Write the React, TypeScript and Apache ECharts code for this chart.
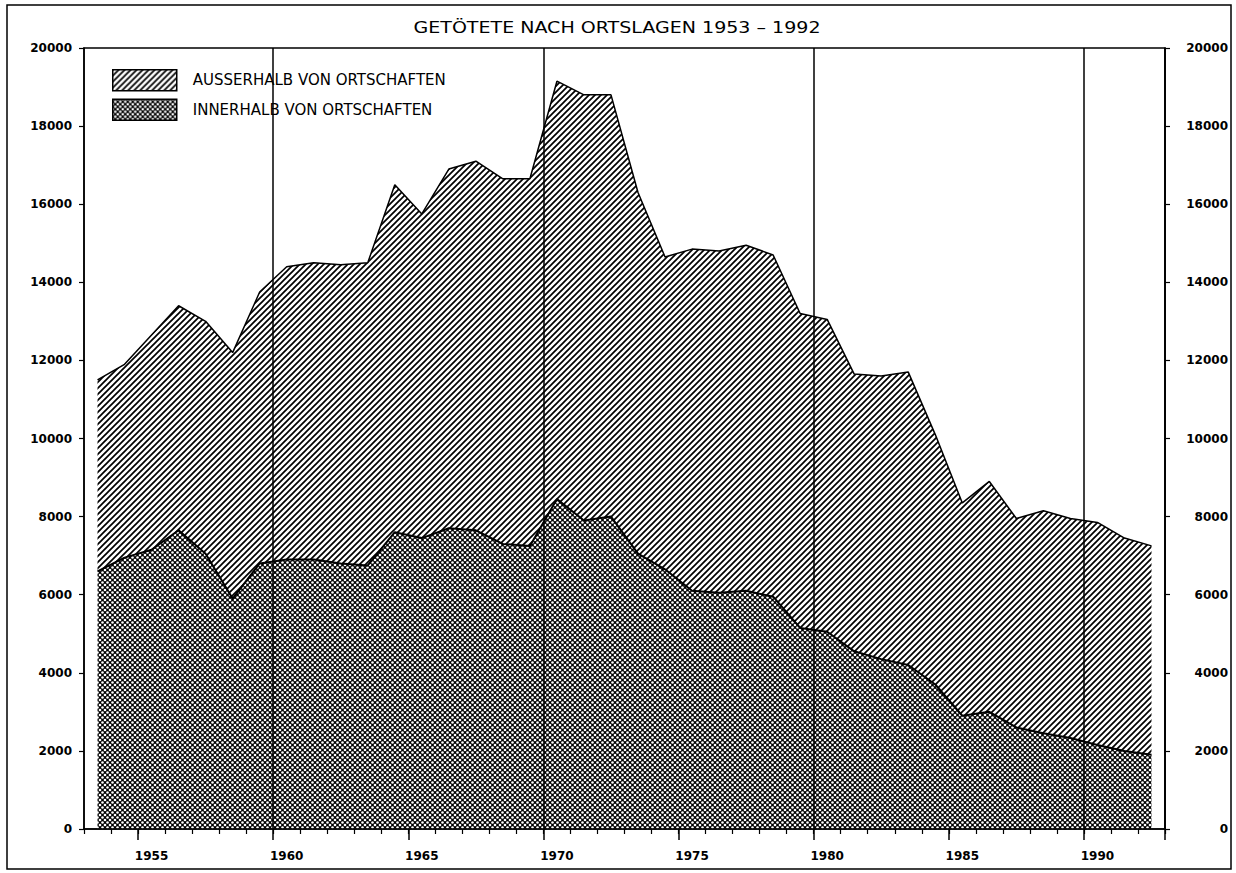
import React, { useEffect, useRef } from "react";
import * as echarts from "echarts";

const YEARS = [
  "1953", "1954", "1955", "1956", "1957", "1958", "1959", "1960", "1961", "1962",
  "1963", "1964", "1965", "1966", "1967", "1968", "1969", "1970", "1971", "1972",
  "1973", "1974", "1975", "1976", "1977", "1978", "1979", "1980", "1981", "1982",
  "1983", "1984", "1985", "1986", "1987", "1988", "1989", "1990", "1991", "1992",
];

// Getötete innerhalb von Ortschaften
const INNERHALB = [
  6600, 6950, 7150, 7650, 7050, 5900, 6800, 6900, 6900, 6800,
  6750, 7600, 7450, 7700, 7650, 7300, 7250, 8450, 7900, 8000,
  7050, 6650, 6100, 6050, 6100, 5950, 5150, 5050, 4550, 4350,
  4200, 3700, 2900, 3000, 2600, 2450, 2330, 2150, 2000, 1900,
];

// Getötete außerhalb von Ortschaften (gestapelt über INNERHALB)
const AUSSERHALB = [
  4900, 4950, 5500, 5750, 5950, 6300, 6950, 7500, 7600, 7650,
  7750, 8900, 8300, 9200, 9450, 9350, 9400, 10700, 10900, 10800,
  9250, 8000, 8750, 8750, 8850, 8750, 8050, 8000, 7100, 7250,
  7500, 6400, 5450, 5900, 5350, 5700, 5620, 5700, 5450, 5350,
];

const SERIES_NAMES = ["AUSSERHALB VON ORTSCHAFTEN", "INNERHALB VON ORTSCHAFTEN"];
const TITLE = "GETÖTETE NACH ORTSLAGEN 1953 – 1992";
const Y_MIN = 0;
const Y_MAX = 20000;
const Y_INTERVAL = 2000;
const LABEL_EVERY = 5;
const DIVIDER_EVERY = 10;

function hatchTile() {
  const s = 6;
  const c = document.createElement("canvas");
  c.width = s;
  c.height = s;
  const ctx = c.getContext("2d")!;
  ctx.strokeStyle = "#000";
  ctx.lineWidth = 1.7;
  ctx.beginPath();
  ctx.moveTo(-1, s + 1);
  ctx.lineTo(s + 1, -1);
  ctx.moveTo(-1, 1);
  ctx.lineTo(1, -1);
  ctx.moveTo(s - 1, s + 1);
  ctx.lineTo(s + 1, s - 1);
  ctx.stroke();
  return c;
}

function crossTile() {
  const s = 5;
  const c = document.createElement("canvas");
  c.width = s;
  c.height = s;
  const ctx = c.getContext("2d")!;
  ctx.fillStyle = "#000";
  ctx.fillRect(0, 0, s, s);
  ctx.fillStyle = "#fff";
  const pts = [
    [0, 0], [s, 0], [0, s], [s, s], [s / 2, s / 2],
  ];
  for (const [x, y] of pts) {
    ctx.beginPath();
    ctx.arc(x, y, 1.3, 0, Math.PI * 2);
    ctx.fill();
  }
  return c;
}

export default function App() {
  const ref = useRef<HTMLDivElement>(null);

  useEffect(() => {
    if (!ref.current) return;
    const chart = echarts.init(ref.current, null, { renderer: "svg" });
    const hatch = { image: hatchTile(), repeat: "repeat" } as any;
    const cross = { image: crossTile(), repeat: "repeat" } as any;

    const labelFont = {
      color: "#000",
      fontFamily: "DejaVu Sans",
      fontWeight: "bold" as const,
      fontSize: 12,
    };

    const option: any = {
      animation: false,
      backgroundColor: "#fff",
      legend: {
        orient: "vertical",
        left: 112,
        top: 69,
        padding: 0,
        itemWidth: 64,
        itemHeight: 21,
        itemGap: 7,
        icon: "rect",
        selectedMode: false,
        textStyle: {
          fontFamily: "DejaVu Sans",
          fontSize: 15,
          color: "#000",
          padding: [0, 0, 0, 11],
        },
        data: [
          {
            name: SERIES_NAMES[0],
            itemStyle: { color: hatch, borderColor: "#000", borderWidth: 1.5 },
          },
          {
            name: SERIES_NAMES[1],
            itemStyle: { color: cross, borderColor: "#000", borderWidth: 1.5 },
          },
        ],
      },
      grid: {
        left: 84,
        right: 71,
        top: 48,
        bottom: 44,
        show: true,
        borderColor: "#000",
        borderWidth: 1.5,
        backgroundColor: "transparent",
      },
      xAxis: [
        {
          type: "category",
          data: YEARS,
          boundaryGap: true,
          position: "bottom",
          z: 5,
          axisLine: { show: true, lineStyle: { color: "#000", width: 1.5 } },
          axisTick: {
            show: true,
            interval: 0,
            length: 5,
            lineStyle: { color: "#000", width: 1.2 },
          },
          axisLabel: { show: false },
          splitLine: {
            show: true,
            interval: (_i: number, v: string) => Number(v) % DIVIDER_EVERY === 0,
            lineStyle: { color: "#000", width: 1.5 },
          },
        },
        {
          type: "category",
          data: YEARS,
          boundaryGap: true,
          position: "bottom",
          z: 5,
          axisLine: { show: false },
          axisTick: {
            show: true,
            interval: (_i: number, v: string) => Number(v) % LABEL_EVERY === 0,
            length: 11,
            lineStyle: { color: "#000", width: 1.5 },
          },
          axisLabel: {
            show: true,
            interval: (_i: number, v: string) => Number(v) % LABEL_EVERY === 0,
            margin: 21,
            ...labelFont,
          },
          splitLine: { show: false },
        },
      ],
      yAxis: [
        {
          type: "value",
          position: "left",
          min: Y_MIN,
          max: Y_MAX,
          interval: Y_INTERVAL,
          z: 5,
          axisLine: { show: true, lineStyle: { color: "#000", width: 1.5 } },
          axisTick: { show: true, length: 5, lineStyle: { color: "#000", width: 1.2 } },
          axisLabel: { margin: 12, formatter: (v: number) => String(v), ...labelFont },
          splitLine: { show: false },
        },
        {
          type: "value",
          position: "right",
          min: Y_MIN,
          max: Y_MAX,
          interval: Y_INTERVAL,
          z: 5,
          axisLine: { show: true, lineStyle: { color: "#000", width: 1.5 } },
          axisTick: { show: true, length: 5, lineStyle: { color: "#000", width: 1.2 } },
          axisLabel: {
            margin: 63,
            align: "right",
            formatter: (v: number) => String(v),
            ...labelFont,
          },
          splitLine: { show: false },
        },
      ],
      series: [
        {
          name: SERIES_NAMES[1],
          type: "line",
          stack: "total",
          data: INNERHALB,
          xAxisIndex: 0,
          yAxisIndex: 0,
          symbol: "none",
          lineStyle: { color: "#000", width: 2 },
          itemStyle: { color: "#000" },
          areaStyle: { color: cross, opacity: 1 },
          emphasis: { disabled: true },
          z: 2,
        },
        {
          name: SERIES_NAMES[0],
          type: "line",
          stack: "total",
          data: AUSSERHALB,
          xAxisIndex: 0,
          yAxisIndex: 0,
          symbol: "none",
          lineStyle: { color: "#000", width: 1.5 },
          itemStyle: { color: "#000" },
          areaStyle: { color: hatch, opacity: 1 },
          emphasis: { disabled: true },
          z: 2,
        },
      ],
      graphic: [
        {
          type: "rect",
          silent: true,
          shape: { x: 7, y: 5, width: 1224, height: 864 },
          style: { fill: "none", stroke: "#000", lineWidth: 1.5 },
        },
        {
          type: "text",
          silent: true,
          x: 617,
          y: 28,
          scaleX: 1.27,
          style: {
            text: TITLE,
            fill: "#000",
            fontFamily: "DejaVu Sans",
            fontSize: 15,
            align: "center",
            verticalAlign: "middle",
          },
        },
      ],
    };

    chart.setOption(option);
    return () => chart.dispose();
  }, []);

  return (
    <div
      ref={ref}
      style={{
        position: "absolute",
        left: 0,
        top: 0,
        width: 1236,
        height: 873,
        background: "#fff",
      }}
    />
  );
}
